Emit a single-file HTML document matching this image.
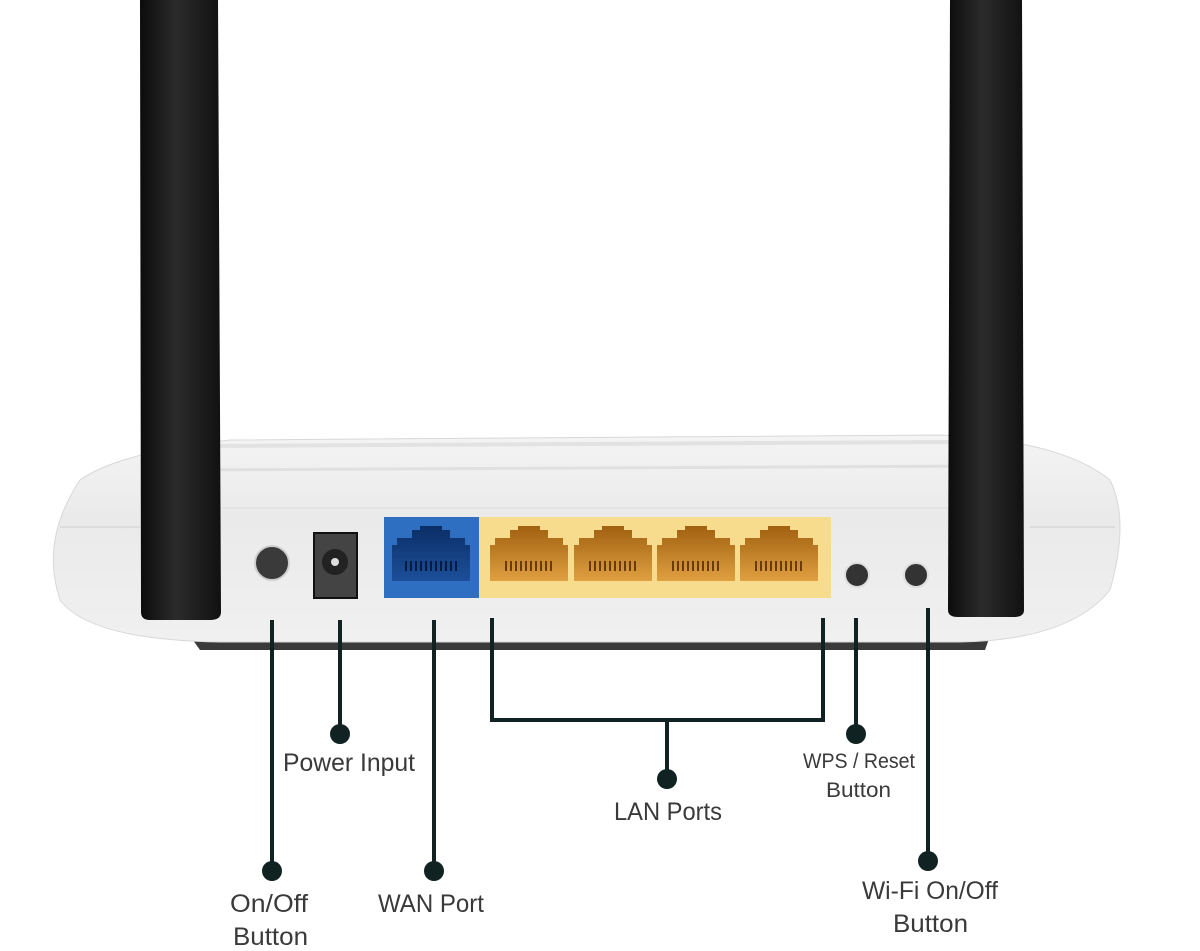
<!DOCTYPE html>
<html><head><meta charset="utf-8"><style>html,body{margin:0;padding:0;background:#fff}svg{display:block}</style></head>
<body>
<svg width="1200" height="951" viewBox="0 0 1200 951" xmlns="http://www.w3.org/2000/svg">
<defs>
<linearGradient id="ant" x1="0" x2="1" y1="0" y2="0">
<stop offset="0" stop-color="#0c0c0c"/><stop offset="0.45" stop-color="#2b2b2b"/><stop offset="1" stop-color="#111"/>
</linearGradient>
<linearGradient id="body" x1="0" x2="0" y1="0" y2="1">
<stop offset="0" stop-color="#f4f4f4"/><stop offset="0.4" stop-color="#eaeaea"/><stop offset="1" stop-color="#f0f0f0"/>
</linearGradient>
<linearGradient id="jack" x1="0" x2="0" y1="0" y2="1">
<stop offset="0" stop-color="#a06010"/><stop offset="1" stop-color="#e0a040"/>
</linearGradient>
<linearGradient id="bjack" x1="0" x2="0" y1="0" y2="1">
<stop offset="0" stop-color="#0b2e66"/><stop offset="1" stop-color="#1c4f9a"/>
</linearGradient>
</defs>
<path d="M190 636 L990 636 L985 650 L200 650 Z" fill="#3a3a3a"/>
<path d="M80 480 Q120 452 230 440 L940 435 Q1060 440 1110 480 Q1130 520 1110 590 Q1070 640 960 642 L220 642 Q90 640 60 600 Q40 540 80 480 Z" fill="url(#body)" stroke="#d8d8d8"/>
<path d="M200 446 L960 442" stroke="#e2e2e2" stroke-width="4"/>
<path d="M180 470 L1000 466" stroke="#e0e0e0" stroke-width="3"/>
<path d="M200 508 L960 508" stroke="#e4e4e4" stroke-width="2"/>
<path d="M60 527 L140 527 M1030 527 L1115 527" stroke="#dcdcdc" stroke-width="2"/>
<rect x="384" y="517" width="95" height="81" fill="#2f6fc2"/>
<rect x="479" y="517" width="352" height="81" fill="#f6dc8c"/>
<g>
<path d="M392 545 L397 545 L397 538 L412 538 L412 530 L420 530 L420 526 L442 526 L442 530 L450 530 L450 538 L465 538 L465 545 L470 545 L470 581 L392 581 Z" fill="url(#bjack)"/>
<g id="j">
<path d="M490 545 L495 545 L495 538 L510 538 L510 530 L518 530 L518 526 L540 526 L540 530 L548 530 L548 538 L563 538 L563 545 L568 545 L568 581 L490 581 Z" fill="url(#jack)"/>
<path d="M505 566 L553 566" stroke="#6a3a08" stroke-width="10" stroke-dasharray="2 3"/>
</g>
<use href="#j" x="84"/><use href="#j" x="167"/><use href="#j" x="250"/>
<path d="M405 566 L457 566" stroke="#061a40" stroke-width="10" stroke-dasharray="2 3"/>
</g>
<circle cx="272" cy="563" r="17" fill="#3a3a3a" stroke="#cfcfcf" stroke-width="2"/>
<rect x="314" y="533" width="43" height="65" fill="#444" stroke="#111" stroke-width="2"/>
<circle cx="335" cy="562" r="13" fill="#222"/><circle cx="335" cy="562" r="4" fill="#ddd"/>
<circle cx="857" cy="575" r="12" fill="#333" stroke="#ddd" stroke-width="2"/>
<circle cx="916" cy="575" r="12" fill="#333" stroke="#ddd" stroke-width="2"/>
<path d="M140 0 L218 0 L221 612 Q221 620 210 620 L150 620 Q141 620 141 612 Z" fill="url(#ant)"/>
<path d="M950 0 L1022 0 L1024 610 Q1024 617 1014 617 L958 617 Q948 617 948 610 Z" fill="url(#ant)"/>
<g stroke="#112222" stroke-width="4" fill="none">
<path d="M272 620 V870"/>
<path d="M340 620 V733"/>
<path d="M434 620 V868"/>
<path d="M492 618 V720 H823 V618"/>
<path d="M667 720 V777"/>
<path d="M856 618 V733"/>
<path d="M928 608 V860"/>
</g>
<g fill="#112222">
<circle cx="272" cy="871" r="10"/>
<circle cx="340" cy="734" r="10"/>
<circle cx="434" cy="871" r="10"/>
<circle cx="667" cy="779" r="10"/>
<circle cx="856" cy="734" r="10"/>
<circle cx="928" cy="861" r="10"/>
</g>
<g font-family="Liberation Sans, sans-serif" fill="#3a3a3a" font-size="25">
<text x="283" y="771" textLength="132" lengthAdjust="spacingAndGlyphs">Power Input</text>
<text x="230" y="912" textLength="78" lengthAdjust="spacingAndGlyphs">On/Off</text>
<text x="233" y="945" textLength="75" lengthAdjust="spacingAndGlyphs">Button</text>
<text x="378" y="912" textLength="106" lengthAdjust="spacingAndGlyphs">WAN Port</text>
<text x="614" y="820" textLength="108" lengthAdjust="spacingAndGlyphs">LAN Ports</text>
<text x="803" y="768" font-size="21" textLength="112" lengthAdjust="spacingAndGlyphs">WPS / Reset</text>
<text x="826" y="797" font-size="21" textLength="65" lengthAdjust="spacingAndGlyphs">Button</text>
<text x="862" y="899" textLength="136" lengthAdjust="spacingAndGlyphs">Wi-Fi On/Off</text>
<text x="893" y="932" textLength="75" lengthAdjust="spacingAndGlyphs">Button</text>
</g>
</svg>
</body></html>
